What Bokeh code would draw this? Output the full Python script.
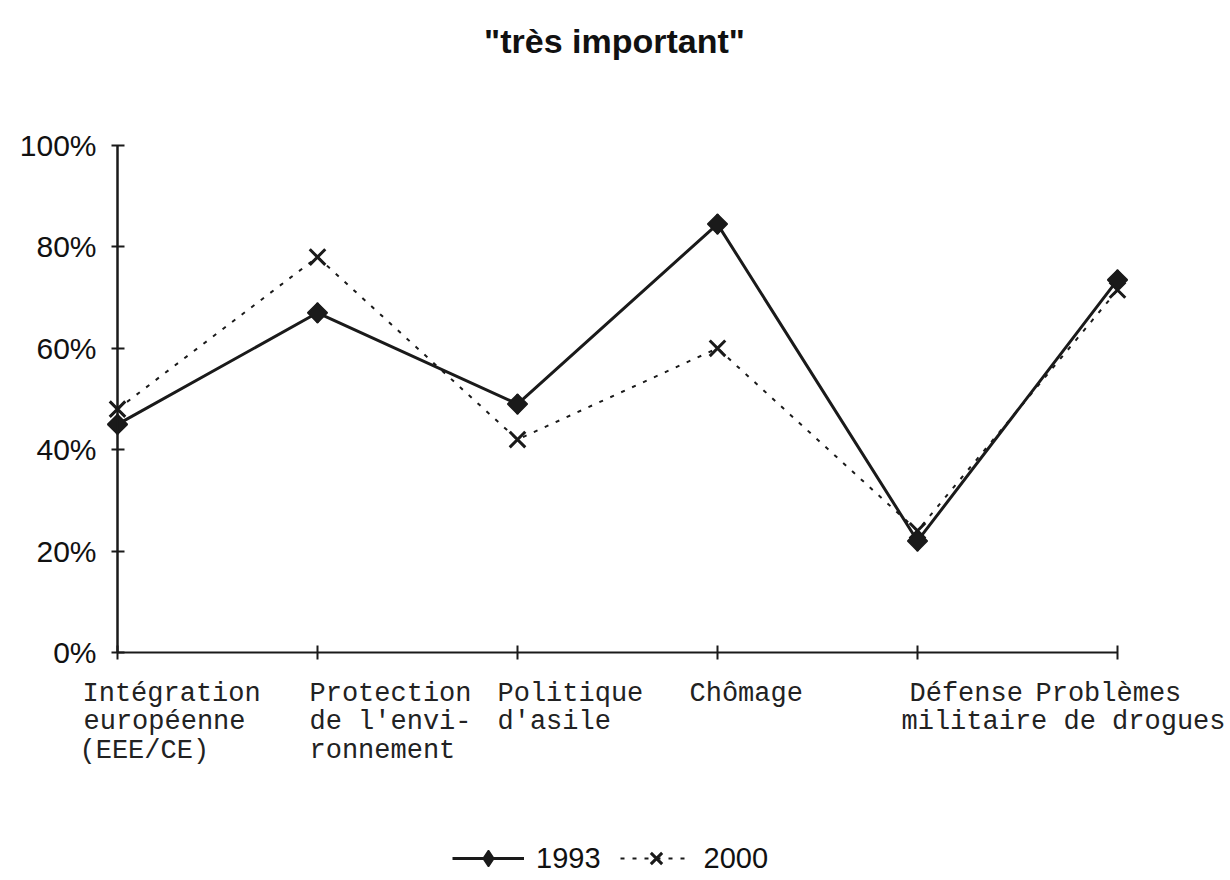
from bokeh.plotting import figure
from bokeh.models import Range1d, LinearAxis, FixedTicker, Legend, LegendItem, ColumnDataSource
from bokeh.core.properties import value
from bokeh.embed import file_html
from bokeh.resources import INLINE
import math

# ---- data ----
categories = [
    "Intégration\neuropéenne\n(EEE/CE)",
    "Protection\nde l'envi-\nronnement",
    "Politique\nd'asile",
    "Chômage",
    "Défense\nmilitaire",
    "Problèmes\nde drogues",
]
values_1993 = [45, 67, 49, 84.5, 22, 73.5]
values_2000 = [48, 78, 42, 60, 24, 71.5]
y_ticks = [0, 20, 40, 60, 80, 100]
y_tick_labels = ["0%", "20%", "40%", "60%", "80%", "100%"]
series_names = ["1993", "2000"]
title_text = '"très important"'

# label layout only: left edge of each label line relative to its category tick (px)
line_shift_px = [
    [-35, -34, -38],
    [-8, -8, -8],
    [-20, -20],
    [-28],
    [-8, -16],
    [-82, -54],
]

W, H = 1228, 878
PX_X = 200.0           # px per category
x_idx = list(range(len(categories)))

p = figure(width=W, height=H, output_backend="svg", toolbar_location=None,
           x_axis_location=None, y_axis_location=None,
           x_range=Range1d(-117 / PX_X, (W - 117) / PX_X),
           y_range=Range1d(-(H - 652) / 5.07, (652 - 72) / 5.07),
           min_border_left=0, min_border_right=0, min_border_bottom=0, min_border_top=72)
p.outline_line_color = None
p.xgrid.visible = False
p.ygrid.visible = False
p.background_fill_color = "white"
p.border_fill_color = "white"

p.title.text = title_text
p.title.align = "center"
p.title.text_font = "Liberation Sans"
p.title.text_font_size = "34px"
p.title.text_font_style = "bold"
p.title.text_color = "#111111"
p.title.standoff = 26

ink = "#1a1a1a"

xaxis = LinearAxis(fixed_location=0, bounds=(0, len(categories) - 1),
                   ticker=FixedTicker(ticks=x_idx, minor_ticks=[]),
                   major_label_overrides={i: "" for i in x_idx},
                   major_tick_in=7, major_tick_out=7,
                   axis_line_width=2, major_tick_line_width=2,
                   axis_line_color=ink, major_tick_line_color=ink,
                   minor_tick_line_color=None)
p.add_layout(xaxis, "below")

yaxis = LinearAxis(fixed_location=0, bounds=(0, 100),
                   ticker=FixedTicker(ticks=y_ticks, minor_ticks=[]),
                   major_label_overrides={t: l for t, l in zip(y_ticks, y_tick_labels)},
                   major_tick_in=7, major_tick_out=6,
                   axis_line_width=2.5, major_tick_line_width=2,
                   axis_line_color=ink, major_tick_line_color=ink,
                   minor_tick_line_color=None,
                   major_label_standoff=15,
                   major_label_text_font="Liberation Sans",
                   major_label_text_font_size="30px",
                   major_label_text_color="#111111")
p.add_layout(yaxis, "left")

src = ColumnDataSource(dict(x=x_idx, y1993=values_1993, y2000=values_2000))

l2000 = p.line("x", "y2000", source=src, line_color=ink, line_width=2, line_dash="4 8")
m2000 = p.scatter("x", "y2000", source=src, marker="x", size=22, line_color=ink, line_width=3)
l1993 = p.line("x", "y1993", source=src, line_color=ink, line_width=3)
# diamond (used by the legend) under a rotated square (fuller diamond shape on the chart)
d1993 = p.scatter("x", "y1993", source=src, marker="diamond", size=20,
                  fill_color=ink, line_color=ink, line_width=1.5)
m1993 = p.scatter("x", "y1993", source=src, marker="square", angle=math.pi / 4, size=14,
                  fill_color=ink, line_color=ink, line_width=1.5)

# category labels, one text item per line
lx, ly, lt, lo = [], [], [], []
for i, (cat, shifts) in enumerate(zip(categories, line_shift_px)):
    for j, (line, s) in enumerate(zip(cat.split("\n"), shifts)):
        lx.append(i + s / PX_X)
        ly.append(0)
        lt.append(line)
        lo.append(26 + 28.5 * j)
lab = ColumnDataSource(dict(x=lx, y=ly, t=lt, o=lo))
p.text("x", "y", text="t", source=lab, y_offset="o", text_font=value("Liberation Mono"),
       text_font_size="27px", text_align="left", text_baseline="top",
       text_color="#222222")

legend = Legend(items=[LegendItem(label=series_names[0], renderers=[l1993, d1993]),
                       LegendItem(label=series_names[1], renderers=[l2000, m2000])],
                orientation="horizontal", location=(452, 0),
                padding=0, margin=0, spacing=19, label_standoff=12,
                glyph_width=72, glyph_height=40, label_height=40,
                label_text_font="Liberation Sans", label_text_font_size="29px",
                label_text_color="#111111",
                border_line_color=None, background_fill_alpha=0)
p.add_layout(legend)

open("out.html", "w").write(file_html(p, INLINE))
